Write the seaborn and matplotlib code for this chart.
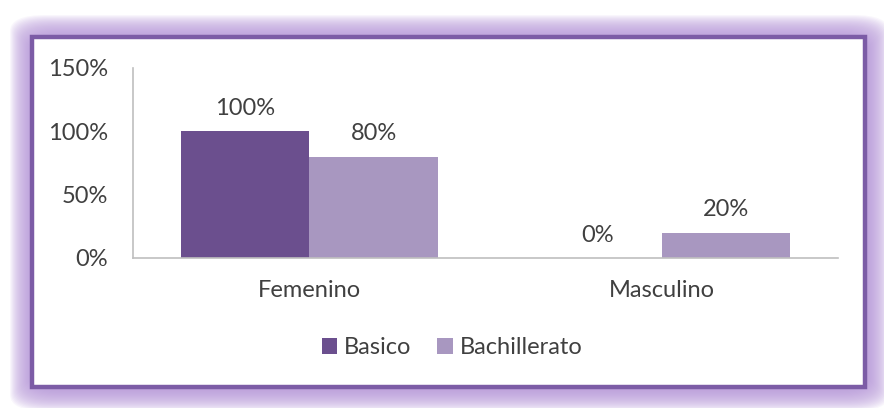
import pandas as pd
import seaborn as sns
import matplotlib.pyplot as plt
from matplotlib.patches import FancyBboxPatch

categories = ["Femenino", "Masculino"]
series = ["Basico", "Bachillerato"]
basico = [1.00, 0.00]
bachillerato = [0.80, 0.20]
y_ticks = [0.0, 0.5, 1.0, 1.5]

df = pd.DataFrame(
    {
        "genero": categories * 2,
        "nivel": [series[0]] * len(categories) + [series[1]] * len(categories),
        "valor": basico + bachillerato,
    }
)

sns.set_theme(style="white")
plt.rcParams["font.family"] = ["Lato", "DejaVu Sans"]
FS = 17

W, H = 884, 408
fig = plt.figure(figsize=(W / 100, H / 100), dpi=100)
fig.patch.set_facecolor("white")

# soft lavender glow around the frame
x0, y0, x1, y1 = 32, 37, 865, 387
for i in range(22, 0, -1):
    glow = FancyBboxPatch(
        ((x0 - i) / W, 1 - (y1 + i + 2) / H),
        (x1 - x0 + 2 * i + 2) / W,
        (y1 - y0 + 2 * i + 2) / H,
        boxstyle="round,pad=0,rounding_size=0.04",
        transform=fig.transFigure,
        facecolor="#b898dc",
        edgecolor="none",
        alpha=0.08,
        zorder=0,
    )
    fig.patches.append(glow)

frame = plt.Rectangle(
    (x0 / W, 1 - y1 / H),
    (x1 - x0) / W,
    (y1 - y0) / H,
    transform=fig.transFigure,
    facecolor="white",
    edgecolor="#7c5ca6",
    linewidth=3.2,
    zorder=1,
)
fig.patches.append(frame)

ax = fig.add_axes([133 / W, 1 - 258 / H, (838 - 133) / W, (258 - 68) / H])
ax.set_zorder(2)
ax.patch.set_alpha(0)

sns.barplot(
    data=df,
    x="genero",
    y="valor",
    hue="nivel",
    order=categories,
    hue_order=series,
    palette=["#6b4f8e", "#a897c0"],
    width=0.73,
    gap=0,
    saturation=1,
    linewidth=0,
    ax=ax,
)

for cont in ax.containers:
    ax.bar_label(
        cont,
        labels=[f"{v:.0%}" for v in cont.datavalues],
        padding=9,
        fontsize=FS,
        color="#404040",
    )

ax.set_ylim(0, 1.5)
ax.set_xlim(-0.5, 1.5)
ax.set_yticks(y_ticks)
ax.set_yticklabels([f"{v:.0%}" for v in y_ticks], fontsize=FS, color="#404040")
ax.tick_params(axis="x", labelsize=FS, labelcolor="#404040", pad=16, length=0)
ax.tick_params(axis="y", pad=18, length=0)
ax.set_xlabel("")
ax.set_ylabel("")

for side in ["top", "right"]:
    ax.spines[side].set_visible(False)
for side in ["left", "bottom"]:
    ax.spines[side].set_color("#bfbfbf")
    ax.spines[side].set_linewidth(1.2)

ax.get_legend().remove()
handles, labels = ax.get_legend_handles_labels()
leg = fig.legend(
    handles,
    labels,
    loc="center",
    bbox_to_anchor=(452 / W, 1 - 348 / H),
    ncol=2,
    frameon=False,
    fontsize=FS,
    handlelength=0.65,
    handleheight=0.65,
    handletextpad=0.3,
    columnspacing=1.1,
)
leg.set_zorder(3)
for t in leg.get_texts():
    t.set_color("#404040")

fig.savefig("out.png", dpi=100)
